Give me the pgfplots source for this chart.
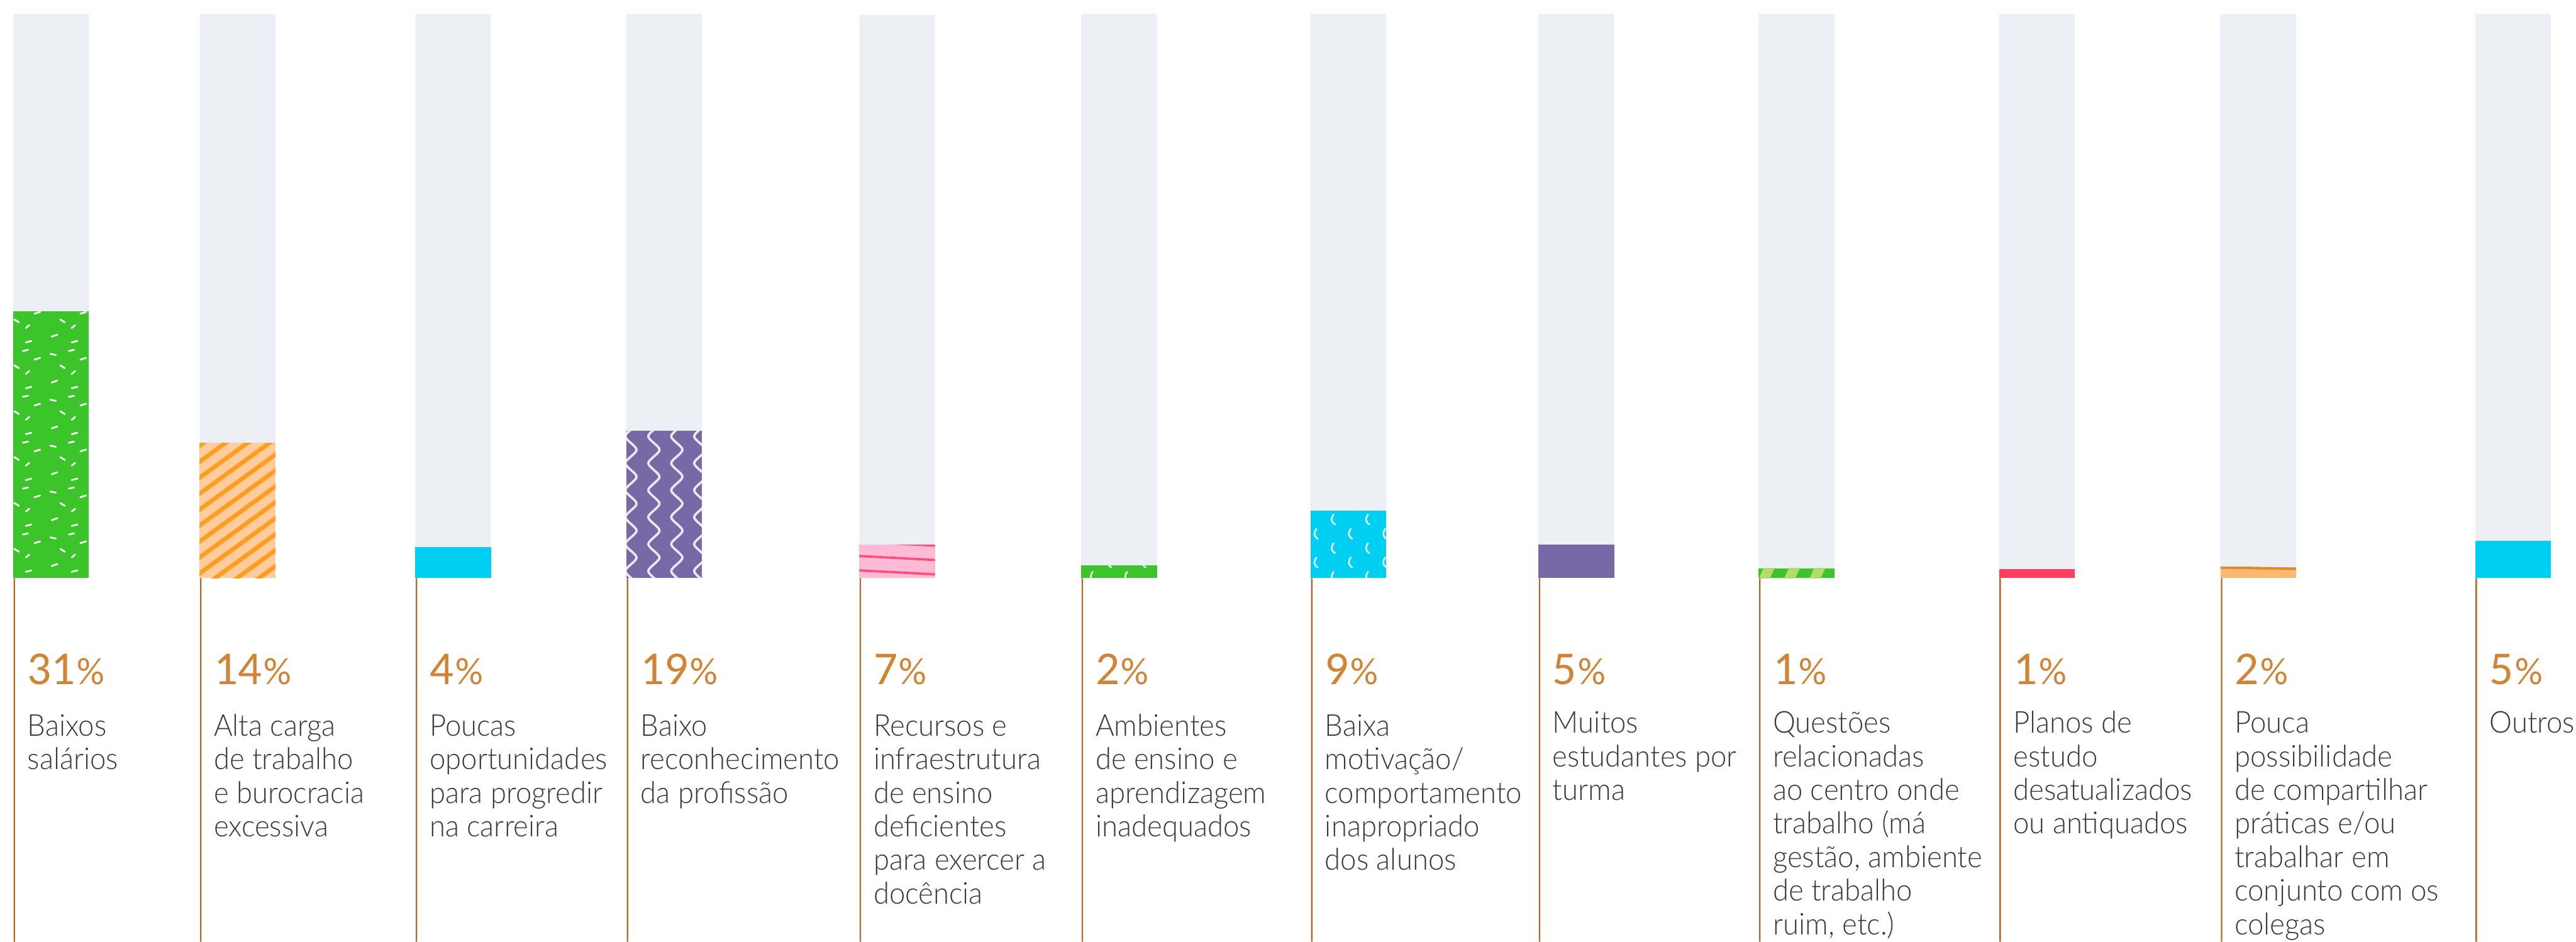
\documentclass[border=0pt]{standalone}
\usepackage{fontspec}
\setmainfont{Carlito}
\newfontfamily\lightfont{Lato Light}[FakeStretch=0.95]
\usepackage{pgfplots}
\pgfplotsset{compat=1.18}
\usetikzlibrary{patterns,patterns.meta}

\definecolor{greybg}{HTML}{ECEFF4}
\definecolor{cgreen}{HTML}{3BC52B}
\definecolor{cpeach}{HTML}{FFCC9C}
\definecolor{cstripe}{HTML}{FF9D22}
\definecolor{ccyan}{HTML}{00CFF2}
\definecolor{cpurple}{HTML}{7968A6}
\definecolor{cpink}{HTML}{FFBAD5}
\definecolor{cpinkline}{HTML}{FF4D7C}
\definecolor{cred}{HTML}{FF3D5C}
\definecolor{cpeach2}{HTML}{FFB870}
\definecolor{cpeachline}{HTML}{E08A2E}
\definecolor{clightgreen}{HTML}{B3DB6E}
\definecolor{linecol}{HTML}{B06A2E}
\definecolor{pctcol}{HTML}{D08436}
\definecolor{labelcol}{HTML}{3A3A3A}

\pgfdeclarepatternformonly{waves}{\pgfqpoint{-1pt}{-1pt}}{\pgfqpoint{9pt}{10.4pt}}{\pgfqpoint{8pt}{9.4pt}}{%
  \pgfsetlinewidth{0.8pt}%
  \pgfpathmoveto{\pgfqpoint{4pt}{0pt}}%
  \pgfpathcurveto{\pgfqpoint{6.6pt}{2.3pt}}{\pgfqpoint{6.6pt}{2.4pt}}{\pgfqpoint{4pt}{4.7pt}}%
  \pgfpathcurveto{\pgfqpoint{1.4pt}{7pt}}{\pgfqpoint{1.4pt}{7.1pt}}{\pgfqpoint{4pt}{9.4pt}}%
  \pgfusepath{stroke}}

\pgfdeclarepatternformonly{confetti}{\pgfqpoint{-1pt}{-1pt}}{\pgfqpoint{17pt}{17pt}}{\pgfqpoint{16pt}{16pt}}{%
  \pgfsetlinewidth{0.6pt}\pgfsetroundcap
  \pgfpathmoveto{\pgfqpoint{2pt}{3pt}}\pgfpathlineto{\pgfqpoint{4pt}{3.7pt}}%
  \pgfpathmoveto{\pgfqpoint{9pt}{1pt}}\pgfpathlineto{\pgfqpoint{11pt}{1.5pt}}%
  \pgfpathmoveto{\pgfqpoint{5pt}{9pt}}\pgfpathlineto{\pgfqpoint{6.6pt}{8pt}}%
  \pgfpathmoveto{\pgfqpoint{12pt}{11pt}}\pgfpathlineto{\pgfqpoint{14pt}{11.6pt}}%
  \pgfpathmoveto{\pgfqpoint{1.5pt}{13pt}}\pgfpathlineto{\pgfqpoint{3.5pt}{12.6pt}}%
  \pgfpathmoveto{\pgfqpoint{9pt}{6pt}}\pgfpathlineto{\pgfqpoint{10.2pt}{7pt}}%
  \pgfpathmoveto{\pgfqpoint{8pt}{14pt}}\pgfpathlineto{\pgfqpoint{9.8pt}{14.4pt}}%
  \pgfusepath{stroke}}

\pgfdeclarepatternformonly{chev}{\pgfqpoint{-1pt}{-1pt}}{\pgfqpoint{13pt}{11pt}}{\pgfqpoint{12pt}{10pt}}{%
  \pgfsetlinewidth{0.6pt}\pgfsetroundcap
  \pgfpathmoveto{\pgfqpoint{3.5pt}{0.5pt}}%
  \pgfpathcurveto{\pgfqpoint{2pt}{1.5pt}}{\pgfqpoint{2pt}{2.5pt}}{\pgfqpoint{3pt}{4pt}}%
  \pgfpathmoveto{\pgfqpoint{9.5pt}{5.5pt}}%
  \pgfpathcurveto{\pgfqpoint{8pt}{6.5pt}}{\pgfqpoint{8pt}{7.5pt}}{\pgfqpoint{9pt}{9pt}}%
  \pgfusepath{stroke}}

\pgfplotsset{
  vbar/.style={ybar, bar width=132, bar shift=0pt, draw=none},
}

\newcommand{\lbl}[3]{\node[anchor=base west, inner sep=0pt, text=labelcol,
  font=\lightfont\fontsize{10.5pt}{11.72pt}\selectfont] at (axis cs:#1,#2)
  {\begin{tabular}[t]{@{}l@{}}#3\end{tabular}};}

\begin{document}
\begin{tikzpicture}
\begin{axis}[
  x=0.2pt, y=0.2pt,
  xmin=0, xmax=4491, ymin=-634, ymax=1008,
  enlargelimits=false,
  axis line style={draw=none}, ticks=none,
  clip=false,
]
% background bars (full scale)
\addplot[vbar, fill=greybg] coordinates {
  (89,984) (414,984) (790,984) (1158,984) (1564,982) (1951,984)
  (2351,984) (2748,984) (3132,984) (3551,984) (3937,984) (4381,984)};

% value bars (bar heights as drawn)
\addplot[vbar, fill=cgreen, postaction={pattern=confetti, pattern color=white}] coordinates {(89,465)};
\addplot[vbar, fill=cpeach, postaction={pattern={Lines[angle=36, distance=4.5pt, line width=1.5pt]}, pattern color=cstripe}] coordinates {(414,236)};
\addplot[vbar, fill=ccyan] coordinates {(790,54)};
\addplot[vbar, fill=cpurple, postaction={pattern=waves, pattern color=white!85!cpurple}] coordinates {(1158,257)};
\addplot[vbar, fill=cpink, postaction={pattern={Lines[angle=-3, distance=5pt, line width=0.8pt]}, pattern color=cpinkline}] coordinates {(1564,58)};
\addplot[vbar, fill=cgreen, postaction={pattern=chev, pattern color=white!85!cgreen}] coordinates {(1951,22)};
\addplot[vbar, fill=ccyan, postaction={pattern=chev, pattern color=white!85!ccyan}] coordinates {(2351,118)};
\addplot[vbar, fill=cpurple] coordinates {(2748,59)};
\addplot[vbar, fill=cgreen, postaction={pattern={Lines[angle=65, distance=8pt, line width=3.5pt]}, pattern color=clightgreen}] coordinates {(3132,17)};
\addplot[vbar, fill=cred] coordinates {(3551,16)};
\addplot[vbar, fill=cpeach2, postaction={pattern={Lines[angle=-1, distance=9pt, line width=0.9pt]}, pattern color=cpeachline}] coordinates {(3937,19)};
\addplot[vbar, fill=ccyan] coordinates {(4381,65)};

% thin vertical guide lines
\addplot[ybar, bar width=2.5, bar shift=0pt, draw=none, fill=linecol] coordinates {
  (25,-634) (350,-634) (726,-634) (1094,-634) (1500,-634) (1887,-634)
  (2287,-634) (2684,-634) (3068,-634) (3487,-634) (3873,-634) (4317,-634)};

% percentages
\addplot[draw=none, mark=none, point meta=explicit symbolic,
  nodes near coords={{\fontsize{16.5pt}{16.5pt}\selectfont\pgfplotspointmeta}\kern0.6pt{\fontsize{13.4pt}{13.4pt}\selectfont\%}},
  every node near coord/.append style={anchor=base west, inner sep=0pt, text=pctcol}]
  coordinates {
  (47,-186) [31] (372,-186) [14] (748,-186) [4] (1116,-186) [19]
  (1522,-186) [7] (1909,-186) [2] (2309,-186) [9] (2706,-186) [5]
  (3090,-186) [1] (3509,-186) [1] (3895,-186) [2] (4339,-186) [5]};

% category labels
\lbl{47}{-275}{Baixos\\salários}
\lbl{372}{-275}{Alta carga\\de trabalho\\e burocracia\\excessiva}
\lbl{748}{-275}{Poucas\\oportunidades\\para progredir\\na carreira}
\lbl{1116}{-275}{Baixo\\reconhecimento\\da profissão}
\lbl{1522}{-275}{Recursos e\\infraestrutura\\de ensino\\deficientes\\para exercer a\\docência}
\lbl{1909}{-275}{Ambientes\\de ensino e\\aprendizagem\\inadequados}
\lbl{2309}{-275}{Baixa\\motivação/\\comportamento\\inapropriado\\dos alunos}
\lbl{2706}{-270}{Muitos\\estudantes por\\turma}
\lbl{3090}{-270}{Questões\\relacionadas\\ao centro onde\\trabalho (má\\gestão, ambiente\\de trabalho\\ruim, etc.)}
\lbl{3509}{-270}{Planos de\\estudo\\desatualizados\\ou antiquados}
\lbl{3895}{-270}{Pouca\\possibilidade\\de compartilhar\\práticas e/ou\\trabalhar em\\conjunto com os\\colegas}
\lbl{4339}{-270}{Outros}
\end{axis}
\pgfresetboundingbox
\path (current axis.south west) rectangle (current axis.north east);
\end{tikzpicture}
\end{document}
